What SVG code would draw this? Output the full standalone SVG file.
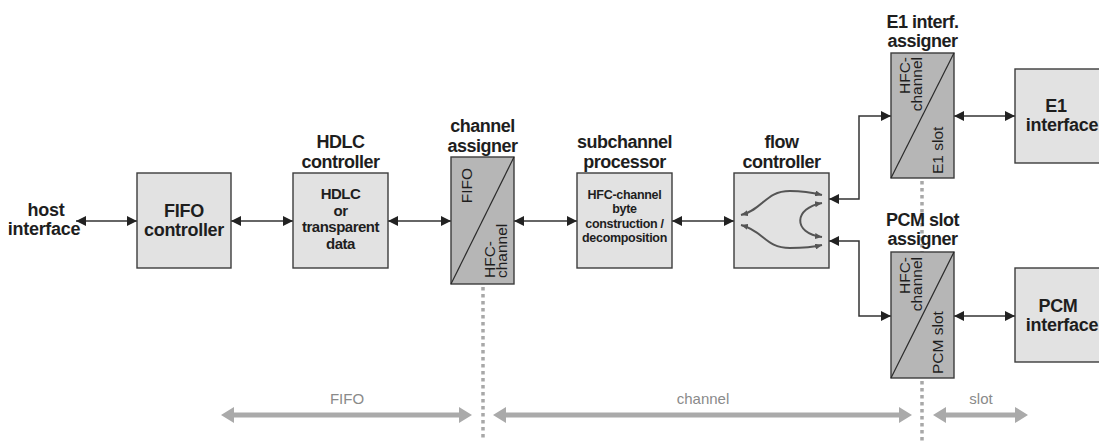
<svg xmlns="http://www.w3.org/2000/svg" width="1099" height="441" viewBox="0 0 1099 441">
<defs>
<style>
.box{fill:#e2e2e2;stroke:#3c3c3c;stroke-width:1.4}
.asg{fill:#b6b6b6;stroke:#3c3c3c;stroke-width:1.4}
.diag{stroke:#2a2a2a;stroke-width:1.2;fill:none}
.t{font-family:"Liberation Sans",Arial,sans-serif;font-weight:bold;fill:#1e1e1e;text-anchor:middle}
.title{font-size:18px;letter-spacing:-0.5px}
.big{font-size:18px;letter-spacing:-0.3px}
.inner{font-size:15px;letter-spacing:-0.5px}
.small{font-size:12.5px;letter-spacing:-0.3px}
.rot{font-family:"Liberation Sans",Arial,sans-serif;font-size:15.5px;fill:#1e1e1e}
.lbl{font-family:"Liberation Sans",Arial,sans-serif;font-size:15px;fill:#8a8a8a;text-anchor:middle}
.con{stroke:#333;stroke-width:1.5;fill:none;marker-start:url(#ah);marker-end:url(#ah)}
.flow{stroke:#555;stroke-width:2;fill:none;marker-start:url(#fh);marker-end:url(#fh)}
.dot{stroke:#a8a8a8;stroke-width:3.5;stroke-dasharray:3.5 3.5;fill:none}
.gar{fill:#aaa}
</style>
<marker id="ah" markerUnits="userSpaceOnUse" markerWidth="10" markerHeight="10" viewBox="0 0 10 10" refX="10" refY="5" orient="auto-start-reverse">
<path d="M0,0 L10,5 L0,10 z" fill="#222"/>
</marker>
<marker id="fh" markerUnits="userSpaceOnUse" markerWidth="7" markerHeight="6" viewBox="0 0 7 6" refX="7" refY="3" orient="auto-start-reverse">
<path d="M0,0 L7,3 L0,6 z" fill="#555"/>
</marker>
</defs>

<g id="connectors">
<line class="con" x1="76" y1="221" x2="137" y2="221"/>
<line class="con" x1="231" y1="221" x2="293" y2="221"/>
<line class="con" x1="388" y1="221" x2="451" y2="221"/>
<line class="con" x1="514" y1="221" x2="577" y2="221"/>
<line class="con" x1="672" y1="221" x2="734" y2="221"/>
<polyline class="con" points="829,199 859,199 859,116 891,116"/>
<polyline class="con" points="829,241 859,241 859,316 891,316"/>
<line class="con" x1="954" y1="116" x2="1015" y2="116"/>
<line class="con" x1="954" y1="316" x2="1015" y2="316"/>
</g>

<g id="dividers">
<line class="dot" x1="483" y1="287" x2="483" y2="441"/>
<line class="dot" x1="922" y1="181" x2="922" y2="252"/>
<line class="dot" x1="922" y1="381" x2="922" y2="441"/>
</g>

<g id="domains">
<path class="gar" d="M221,415 L234,407 L234,412.5 L459,412.5 L459,407 L472,415 L459,423 L459,417.5 L234,417.5 L234,423 z"/>
<path class="gar" d="M493,415 L506,407 L506,412.5 L899,412.5 L899,407 L912,415 L899,423 L899,417.5 L506,417.5 L506,423 z"/>
<path class="gar" d="M933,415 L946,407 L946,412.5 L1015,412.5 L1015,407 L1028,415 L1015,423 L1015,417.5 L946,417.5 L946,423 z"/>
<text class="lbl" x="347" y="404">FIFO</text>
<text class="lbl" x="703" y="404">channel</text>
<text class="lbl" x="981" y="404">slot</text>
</g>

<g id="host">
<text class="t big" x="46" y="216">host</text>
<text class="t big" x="44" y="235">interface</text>
</g>

<g id="fifo-controller">
<rect class="box" x="137" y="173" width="94" height="95"/>
<text class="t big" x="184" y="217">FIFO</text>
<text class="t big" x="184" y="236">controller</text>
</g>

<g id="hdlc-controller">
<text class="t title" x="340.5" y="148">HDLC</text>
<text class="t title" x="340.5" y="168">controller</text>
<rect class="box" x="293" y="173" width="95" height="95"/>
<text class="t inner" x="340.5" y="199">HDLC</text>
<text class="t inner" x="340.5" y="215.5">or</text>
<text class="t inner" x="340.5" y="232">transparent</text>
<text class="t inner" x="340.5" y="248.5">data</text>
</g>

<g id="channel-assigner">
<text class="t title" x="482.5" y="132">channel</text>
<text class="t title" x="482.5" y="152">assigner</text>
<rect class="asg" x="451" y="157" width="63" height="127"/>
<line class="diag" x1="451" y1="284" x2="514" y2="157"/>
<text class="rot" text-anchor="middle" transform="translate(472,185.5) rotate(-90)">FIFO</text>
<text class="rot" transform="translate(495,278) rotate(-90)">HFC-</text>
<text class="rot" transform="translate(507,278) rotate(-90)">channel</text>
</g>

<g id="subchannel-processor">
<text class="t title" x="624.5" y="148">subchannel</text>
<text class="t title" x="624.5" y="168">processor</text>
<rect class="box" x="577" y="173" width="95" height="95"/>
<text class="t small" x="624.5" y="199">HFC-channel</text>
<text class="t small" x="624.5" y="213.3">byte</text>
<text class="t small" x="624.5" y="227.6">construction /</text>
<text class="t small" x="624.5" y="242">decomposition</text>
</g>

<g id="flow-controller">
<text class="t title" x="781.5" y="148">flow</text>
<text class="t title" x="781.5" y="168">controller</text>
<rect class="box" x="734" y="173" width="95" height="95"/>
<path class="flow" d="M741,215 C764,209 765,191 790,191 C805,191 814,193 822,195"/>
<path class="flow" d="M741,225 C764,231 765,248 790,248 C805,248 814,247 822,245"/>
<path class="flow" d="M822,203 C794,208 792,233 822,237"/>
</g>

<g id="e1-assigner">
<text class="t title" x="922.5" y="28">E1 interf.</text>
<text class="t title" x="922.5" y="47">assigner</text>
<rect class="asg" x="891" y="53" width="63" height="125"/>
<line class="diag" x1="891" y1="178" x2="954" y2="53"/>
<text class="rot" text-anchor="end" transform="translate(910,57) rotate(-90)">HFC-</text>
<text class="rot" text-anchor="end" transform="translate(922,57) rotate(-90)">channel</text>
<text class="rot" transform="translate(943,174) rotate(-90)">E1 slot</text>
</g>

<g id="e1-interface">
<rect class="box" x="1015" y="69" width="100" height="94"/>
<text class="t big" x="1056" y="112">E1</text>
<text class="t big" x="1062" y="131">interface</text>
</g>

<g id="pcm-assigner">
<text class="t title" x="922.5" y="226">PCM slot</text>
<text class="t title" x="922.5" y="245">assigner</text>
<rect class="asg" x="891" y="252" width="63" height="126"/>
<line class="diag" x1="891" y1="378" x2="954" y2="252"/>
<text class="rot" text-anchor="end" transform="translate(910,257) rotate(-90)">HFC-</text>
<text class="rot" text-anchor="end" transform="translate(922,257) rotate(-90)">channel</text>
<text class="rot" transform="translate(943,374) rotate(-90)">PCM slot</text>
</g>

<g id="pcm-interface">
<rect class="box" x="1015" y="268" width="100" height="94"/>
<text class="t big" x="1058" y="312">PCM</text>
<text class="t big" x="1062" y="331">interface</text>
</g>
</svg>
